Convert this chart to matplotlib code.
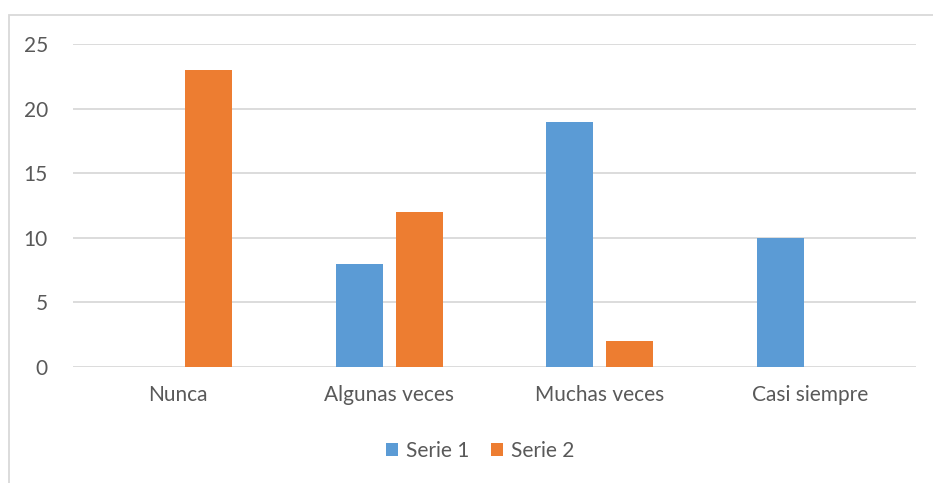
import numpy as np
import matplotlib.pyplot as plt
from matplotlib.patches import Rectangle

categories = ["Nunca", "Algunas veces", "Muchas veces", "Casi siempre"]
serie1 = [0, 8, 19, 10]
serie2 = [23, 12, 2, 0]
yticks = [0, 5, 10, 15, 20, 25]

blue = "#5B9BD5"
orange = "#ED7D31"
text_color = "#595959"
grid_color = "#D9D9D9"

plt.rcParams["font.family"] = ["Lato", "DejaVu Sans"]

fig = plt.figure(figsize=(9.33, 4.83), dpi=100)
ax = fig.add_axes([73 / 933, 116 / 483, 843 / 933, 323 / 483])

x = np.arange(len(categories))
width = 0.223
offset = 0.142
ax.bar(x - offset, serie1, width, color=blue, label="Serie 1", zorder=3)
ax.bar(x + offset, serie2, width, color=orange, label="Serie 2", zorder=3)

ax.set_xlim(-0.5, len(categories) - 0.5)
ax.set_ylim(0, 25)
ax.set_yticks(yticks)
ax.set_xticks(x)
ax.set_xticklabels(categories)
ax.tick_params(axis="both", length=0, labelsize=15, colors=text_color)
ax.tick_params(axis="x", pad=13)
ax.tick_params(axis="y", pad=18)
ax.grid(axis="y", color=grid_color, linewidth=1.3, zorder=0)
for s in ax.spines.values():
    s.set_visible(False)

# chart border
fig.patches.append(Rectangle((9 / 933, -0.1), 1.0, 1 - 15 / 483 + 0.1,
                             transform=fig.transFigure, fill=False,
                             edgecolor=grid_color, linewidth=1.3))

fig.legend(loc="center", bbox_to_anchor=(480 / 933, 1 - 451 / 483), ncol=2,
           frameon=False, fontsize=15, labelcolor=text_color,
           handlelength=0.6, handleheight=0.6, handletextpad=0.35,
           columnspacing=1.05)

fig.savefig("out.png", dpi=100, facecolor="white")
